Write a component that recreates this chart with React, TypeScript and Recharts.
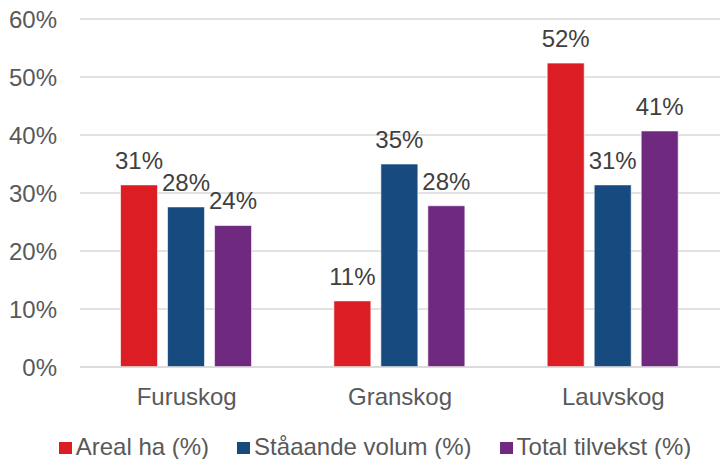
import { BarChart, Bar, XAxis, YAxis, CartesianGrid, Legend, LabelList } from 'recharts';

// ---------------------------------------------------------------------------
// Data
// ---------------------------------------------------------------------------
const CATEGORIES = ['Furuskog', 'Granskog', 'Lauvskog'];
const AREAL = [31.4, 11.4, 52.4];
const VOLUM = [27.6, 35.0, 31.4];
const TILVEKST = [24.4, 27.8, 40.7];
const Y_TICKS = [0, 10, 20, 30, 40, 50, 60];

const SERIES = [
  { key: 'areal', name: 'Areal ha (%)', color: '#DC1E24' },
  { key: 'volum', name: 'Ståaande volum (%)', color: '#174A7E' },
  { key: 'tilvekst', name: 'Total tilvekst (%)', color: '#6F2A7F' },
];

const GRID = '#D9D9D9';
const AXIS_TEXT = '#595959';
const LABEL_TEXT = '#404040';
const FONT = '"Liberation Sans", Arial, sans-serif';
const FS = 24;

const data = CATEGORIES.map((name, i) => ({
  name,
  areal: AREAL[i],
  volum: VOLUM[i],
  tilvekst: TILVEKST[i],
}));

function LegendContent() {
  return (
    <div
      style={{
        display: 'flex',
        justifyContent: 'center',
        gap: 28,
        fontFamily: FONT,
        fontSize: FS,
        color: AXIS_TEXT,
        paddingTop: 18,
        paddingLeft: 30,
        lineHeight: 1.15,
      }}
    >
      {SERIES.map((s) => (
        <span key={s.key} style={{ display: 'flex', alignItems: 'center', gap: 4 }}>
          <span style={{ width: 13, height: 12, background: s.color, display: 'inline-block', marginTop: 3 }} />
          {s.name}
        </span>
      ))}
    </div>
  );
}

export default function App() {
  return (
    <div style={{ position: 'absolute', left: 0, top: 0, background: '#fff' }}>
      <BarChart
        width={722}
        height={459}
        data={data}
        margin={{ top: 19, right: 2, bottom: 0, left: 0 }}
        barCategoryGap="19%"
        barGap={10}
      >
        <CartesianGrid vertical={false} stroke={GRID} strokeWidth={1.5} />
        <XAxis
          dataKey="name"
          axisLine={{ stroke: GRID, strokeWidth: 1.5 }}
          tickLine={false}
          tickSize={0}
          tickMargin={21}
          height={48}
          tick={{ fill: AXIS_TEXT, fontSize: FS, fontFamily: FONT }}
        />
        <YAxis
          domain={[0, 60]}
          ticks={Y_TICKS}
          interval={0}
          axisLine={false}
          tickLine={false}
          tickSize={0}
          tickMargin={23}
          width={80}
          tickFormatter={(v: number) => `${v}%`}
          tick={{ fill: AXIS_TEXT, fontSize: FS, fontFamily: FONT }}
        />
        <Legend verticalAlign="bottom" height={44} content={<LegendContent />} />
        {SERIES.map((s) => (
          <Bar
            key={s.key}
            dataKey={s.key}
            name={s.name}
            fill={s.color}
            stroke="#ffffff"
            strokeOpacity={0.6}
            isAnimationActive={false}
          >
            <LabelList
              dataKey={s.key}
              position="top"
              offset={16}
              formatter={(v: number) => `${Math.round(v)}%`}
              style={{ fill: LABEL_TEXT, fontSize: FS, fontFamily: FONT }}
            />
          </Bar>
        ))}
      </BarChart>
    </div>
  );
}
